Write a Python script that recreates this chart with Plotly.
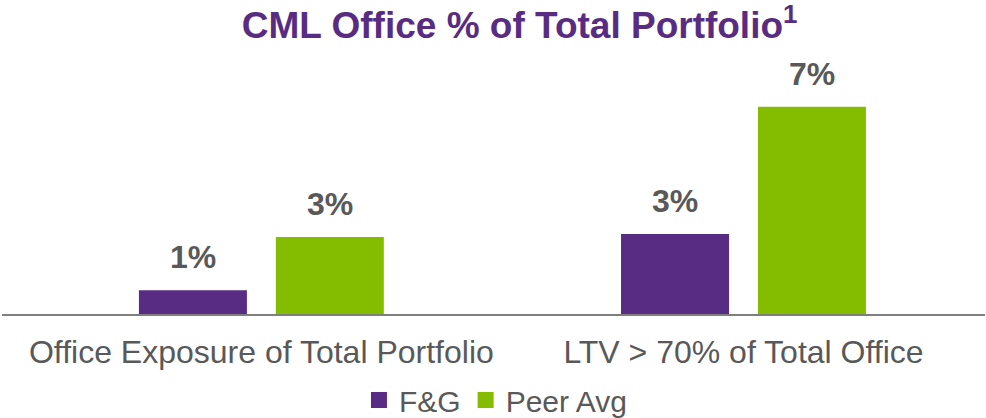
import plotly.graph_objects as go

categories = ["Office Exposure of Total Portfolio", "LTV > 70% of Total Office"]
fg_values = [0.8, 2.7]
peer_values = [2.6, 7.0]
series_names = ["F&G", "Peer Avg"]

PURPLE = "#582C83"
GREEN = "#84BD00"
GREY = "#595959"
FONT = "Liberation Sans, Arial, sans-serif"

x_idx = list(range(len(categories)))

fig = go.Figure()
for name, vals, color, offset in [
    (series_names[0], fg_values, PURPLE, -0.254),
    (series_names[1], peer_values, GREEN, 0.030),
]:
    fig.add_trace(go.Bar(
        x=x_idx, y=vals, name=name, marker_color=color,
        marker_line_width=0, width=0.224, offset=offset,
        showlegend=False, hoverinfo="skip",
    ))
    # legend swatch
    fig.add_trace(go.Scatter(
        x=[None], y=[None], mode="markers", name=name,
        marker=dict(symbol="square", size=16, color=color),
    ))
    # value labels above each bar
    for xi, v in zip(x_idx, vals):
        fig.add_annotation(
            x=xi + offset + 0.112, y=v, text=f"{v:.0f}%",
            showarrow=False, yanchor="bottom", yshift=13,
            font=dict(family=FONT, size=32, color=GREY, weight="bold"),
        )

fig.update_layout(
    width=986, height=418,
    margin=dict(l=2, r=1, t=60, b=104, autoexpand=False),
    paper_bgcolor="white", plot_bgcolor="white",
    title=dict(
        text="<b>CML Office % of Total Portfolio<sup>1</sup></b>",
        x=0.527, xanchor="center", y=0.94, yanchor="middle",
        font=dict(family=FONT, size=37, color=PURPLE),
    ),
    showlegend=True,
    legend=dict(
        orientation="h", x=0.502, xanchor="center",
        yref="container", y=1 - 400 / 418, yanchor="middle",
        font=dict(family=FONT, size=30, color=GREY),
        itemwidth=30, borderwidth=0,
    ),
    xaxis=dict(
        range=[-0.538, 1.501], tickmode="array", tickvals=x_idx,
        ticktext=categories, showgrid=False, zeroline=False,
        showline=True, linecolor="#7f7f7f", linewidth=2, ticks="",
        tickfont=dict(family=FONT, size=32, color=GREY),
        ticklabelstandoff=9, automargin=False,
    ),
    yaxis=dict(
        range=[0, 8.58], visible=False, showgrid=False, zeroline=False,
    ),
)

fig.write_html("out.html")
